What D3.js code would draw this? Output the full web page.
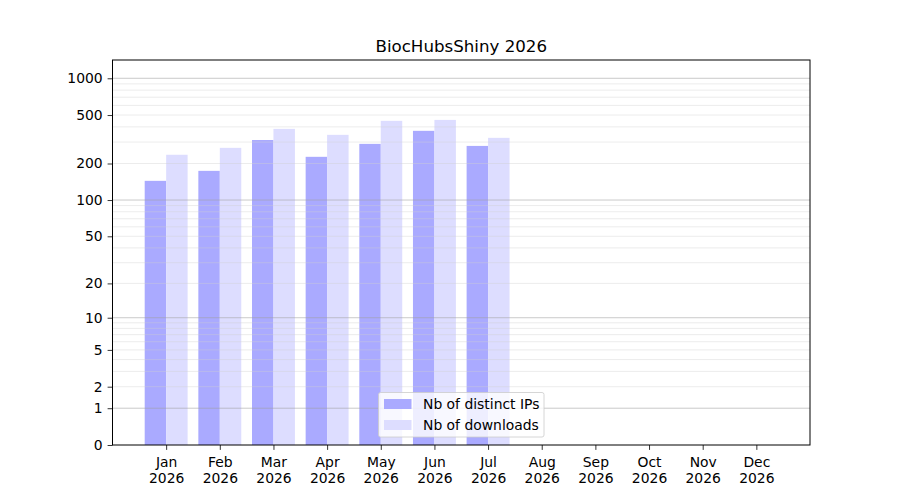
<!DOCTYPE html>
<html>
<head>
<meta charset="utf-8">
<script src="https://cdn.jsdelivr.net/npm/d3@7"></script>
<style>
  html, body { margin: 0; padding: 0; background: #fff; }
  svg { display: block; font-family: "DejaVu Sans", sans-serif; }
</style>
</head>
<body>
<svg id="chart" width="900" height="500"></svg>
<script>
const title = "BiocHubsShiny 2026";
const months = ["Jan","Feb","Mar","Apr","May","Jun","Jul","Aug","Sep","Oct","Nov","Dec"];
const year = "2026";
const distinctIPs = [144, 174, 312, 227, 290, 371, 279, null, null, null, null, null];
const downloads   = [236, 269, 385, 344, 448, 456, 325, null, null, null, null, null];
const yTicks = [0, 1, 2, 5, 10, 20, 50, 100, 200, 500, 1000];
const majorGrid = [1, 10, 100, 1000];
const minorGrid = [2,3,4,5,6,7,8,9,20,30,40,50,60,70,80,90,200,300,400,500,600,700,800,900];
const seriesNames = ["Nb of distinct IPs", "Nb of downloads"];
const colors = ["#aaaaff", "#ddddff"];

const svg = d3.select("#chart");
const L = 112.5, R = 810, T = 60, B = 445;

const x = d3.scaleLinear().domain([0, 13]).range([L, R]);
const y = d3.scaleSymlog().constant(1).domain([0, 1412]).range([B, T]);

// bars
const barW = 0.4;
const g = svg.append("g");
months.forEach((m, i) => {
  const pos = i + 1;
  if (distinctIPs[i] != null) {
    g.append("rect")
      .attr("x", x(pos - barW)).attr("width", x(pos) - x(pos - barW))
      .attr("y", y(distinctIPs[i])).attr("height", B - y(distinctIPs[i]))
      .attr("fill", colors[0]);
  }
  if (downloads[i] != null) {
    g.append("rect")
      .attr("x", x(pos)).attr("width", x(pos + barW) - x(pos))
      .attr("y", y(downloads[i])).attr("height", B - y(downloads[i]))
      .attr("fill", colors[1]);
  }
});

// grid (drawn above bars)
const grid = svg.append("g");
minorGrid.forEach(v => {
  grid.append("line").attr("x1", L).attr("x2", R)
    .attr("y1", y(v)).attr("y2", y(v))
    .attr("stroke", "#d0d0d0").attr("stroke-opacity", 0.5).attr("stroke-width", 0.8);
});
majorGrid.forEach(v => {
  grid.append("line").attr("x1", L).attr("x2", R)
    .attr("y1", y(v)).attr("y2", y(v))
    .attr("stroke", "#a0a0a0").attr("stroke-opacity", 0.7).attr("stroke-width", 0.8);
});

// axes
const yAxis = d3.axisLeft(y).tickValues(yTicks).tickFormat(d3.format("d"))
  .tickSizeOuter(0).tickSizeInner(4.9).tickPadding(4.9);
const ya = svg.append("g").attr("transform", `translate(${L},0)`).call(yAxis);
ya.select(".domain").remove();
ya.selectAll("text").attr("font-size", 13.9).attr("fill", "#000")
  .attr("font-family", "DejaVu Sans, sans-serif");
ya.selectAll("line").attr("stroke", "#000").attr("stroke-width", 0.8);

const xAxis = d3.axisBottom(x).tickValues(d3.range(1, 13)).tickFormat(() => "")
  .tickSizeOuter(0).tickSizeInner(4.9);
const xa = svg.append("g").attr("transform", `translate(0,${B})`).call(xAxis);
xa.select(".domain").remove();
xa.selectAll("line").attr("stroke", "#000").attr("stroke-width", 0.8);
xa.selectAll(".tick").each(function(d) {
  const t = d3.select(this).append("text")
    .attr("text-anchor", "middle").attr("font-size", 13.9).attr("fill", "#000")
    .attr("font-family", "DejaVu Sans, sans-serif");
  t.append("tspan").attr("x", 0).attr("y", 21.5).text(months[d - 1]);
  t.append("tspan").attr("x", 0).attr("y", 37.5).text(year);
});

// frame
svg.append("rect").attr("x", L).attr("y", T).attr("width", R - L).attr("height", B - T)
  .attr("fill", "none").attr("stroke", "#000").attr("stroke-width", 1);

// title
svg.append("text").attr("x", (L + R) / 2).attr("y", 52)
  .attr("text-anchor", "middle").attr("font-size", 16.67).attr("fill", "#000")
  .text(title);

// legend
const lg = svg.append("g");
lg.append("rect").attr("x", 378.5).attr("y", 392.5).attr("width", 165.5).attr("height", 44.5)
  .attr("rx", 2).attr("fill", "#fff").attr("fill-opacity", 0.8)
  .attr("stroke", "#cccccc").attr("stroke-width", 0.8);
seriesNames.forEach((name, i) => {
  const yy = 399 + i * 21;
  lg.append("rect").attr("x", 384).attr("y", yy).attr("width", 27.5).attr("height", 10)
    .attr("fill", colors[i]);
  lg.append("text").attr("x", 423).attr("y", yy + 9.5).attr("font-size", 13.9)
    .attr("fill", "#000").text(name);
});
</script>
</body>
</html>
